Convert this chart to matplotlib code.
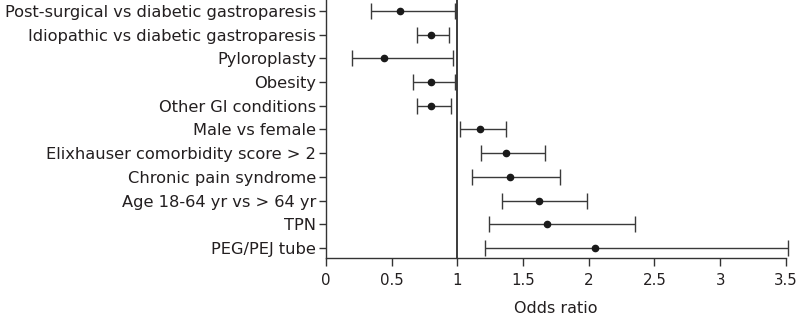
import matplotlib
matplotlib.use("Agg")
import matplotlib.pyplot as plt

labels = ["Post-surgical vs diabetic gastroparesis",
          "Idiopathic vs diabetic gastroparesis",
          "Pyloroplasty",
          "Obesity",
          "Other GI conditions",
          "Male vs female",
          "Elixhauser comorbidity score > 2",
          "Chronic pain syndrome",
          "Age 18-64 yr vs > 64 yr",
          "TPN",
          "PEG/PEJ tube"]
odds = [0.56, 0.80, 0.44, 0.80, 0.80, 1.17, 1.37, 1.40, 1.62, 1.68, 2.05]
lower = [0.34, 0.69, 0.20, 0.66, 0.69, 1.02, 1.18, 1.11, 1.34, 1.24, 1.21]
upper = [0.98, 0.94, 0.97, 0.98, 0.95, 1.37, 1.67, 1.78, 1.99, 2.35, 3.52]
xticks = [0, 0.5, 1, 1.5, 2, 2.5, 3, 3.5]
xticklabels = ["0", "0.5", "1", "1.5", "2", "2.5", "3", "3.5"]

plt.rcParams['font.family'] = ['DejaVu Sans']
txt = '#231f20'

fig = plt.figure(figsize=(7.97, 3.16), dpi=100)
ax = fig.add_axes([0.409, 0.1835, 0.577, 0.8165])

ypos = list(range(len(labels)))
xerr = [[o - l for o, l in zip(odds, lower)], [u - o for o, u in zip(odds, upper)]]
eb = ax.errorbar(odds, ypos, xerr=xerr, fmt='o', color='#1a1a1a', ecolor='#3a3a3a',
                 elinewidth=1.0, capsize=6, capthick=1.0, markersize=4.5, clip_on=False)
for artist in eb.get_children():
    artist.set_clip_on(False)

ax.axvline(1, color='#1a1a1a', linewidth=1.2)

ax.set_xlim(0, 3.5)
ax.set_ylim(len(labels) - 1 + 0.42, -0.46)
ax.set_yticks(ypos)
ax.set_yticklabels(labels, fontsize=11.7, color=txt)
ax.set_xticks(xticks)
ax.set_xticklabels(xticklabels, fontsize=10.8, color=txt)
ax.set_xlabel("Odds ratio", fontsize=11.5, color=txt, labelpad=9)

for s in ['top', 'right']:
    ax.spines[s].set_visible(False)
for s in ['left', 'bottom']:
    ax.spines[s].set_color('#333333')
    ax.spines[s].set_linewidth(1.0)
ax.tick_params(axis='y', length=5, width=1, color='#333333', pad=2)
ax.tick_params(axis='x', length=6, width=1, color='#333333', pad=5)

fig.savefig("out.png", dpi=100)
